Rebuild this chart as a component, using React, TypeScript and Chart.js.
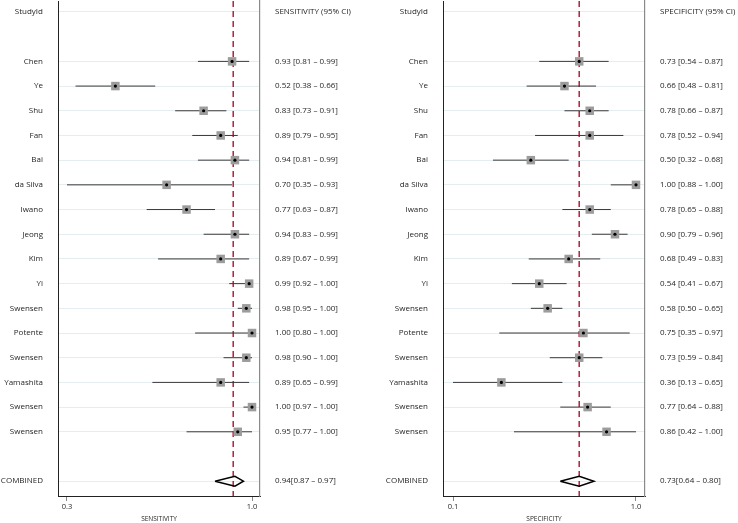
import React, { useEffect, useRef } from "react";
import { Chart, registerables } from "chart.js";

Chart.register(...registerables);

const studies = ["Chen", "Ye", "Shu", "Fan", "Bai", "da Silva", "Iwano", "Jeong", "Kim", "Yi", "Swensen", "Potente", "Swensen", "Yamashita", "Swensen", "Swensen"];

const sens = [0.93, 0.52, 0.83, 0.89, 0.94, 0.70, 0.77, 0.94, 0.89, 0.99, 0.98, 1.00, 0.98, 0.89, 1.00, 0.95];
const sensLo = [0.81, 0.38, 0.73, 0.79, 0.81, 0.35, 0.63, 0.83, 0.67, 0.92, 0.95, 0.80, 0.90, 0.65, 0.97, 0.77];
const sensHi = [0.99, 0.66, 0.91, 0.95, 0.99, 0.93, 0.87, 0.99, 0.99, 1.00, 1.00, 1.00, 1.00, 0.99, 1.00, 1.00];

const spec = [0.73, 0.66, 0.78, 0.78, 0.50, 1.00, 0.78, 0.90, 0.68, 0.54, 0.58, 0.75, 0.73, 0.36, 0.77, 0.86];
const specLo = [0.54, 0.48, 0.66, 0.52, 0.32, 0.88, 0.65, 0.79, 0.49, 0.41, 0.50, 0.35, 0.59, 0.13, 0.64, 0.42];
const specHi = [0.87, 0.81, 0.87, 0.94, 0.68, 1.00, 0.88, 0.96, 0.83, 0.67, 0.65, 0.97, 0.84, 0.65, 0.88, 1.00];

const sensPooled = [0.94, 0.87, 0.97];
const specPooled = [0.73, 0.64, 0.80];
const sensRefLine = 0.934;
const specRefLine = 0.73;

const sensTickValues = [0.35, 1.0];
const sensTickLabels = ["0.3", "1.0"];
const specTickValues = [0.13, 1.0];
const specTickLabels = ["0.1", "1.0"];

const FONT = "'Open Sans', 'Noto Sans', sans-serif";
const TEXT = "#1f1f1f";
const Y_MIN = -0.445;
const Y_MAX = 19.6;
const SHIFT = 5;

function fmt(v: number) {
  return v.toFixed(2);
}

type PanelProps = {
  est: number[];
  lo: number[];
  hi: number[];
  pooled: number[];
  refLine: number;
  header: string;
  title: string;
  tickValues: number[];
  tickLabels: string[];
  xMin: number;
  xMax: number;
  leftW: number;
  rightW: number;
  width: number;
  left: number;
};

function ForestPanel(p: PanelProps) {
  const ref = useRef<HTMLCanvasElement | null>(null);
  useEffect(() => {
    const canvas = ref.current;
    if (!canvas) return;
    const n = studies.length;
    const combinedRow = n + 3;
    const rowsY = [0, ...studies.map((_, i) => i + 2), combinedRow];
    const leftLabels = ["StudyId", ...studies, "COMBINED"];
    const rightLabels = [
      p.header,
      ...p.est.map((e, i) => `${fmt(e)} [${fmt(p.lo[i])} – ${fmt(p.hi[i])}]`),
      `${fmt(p.pooled[0])}[${fmt(p.pooled[1])} – ${fmt(p.pooled[2])}]`,
    ];

    const datasets: any[] = [];
    datasets.push({
      data: [
        { x: p.refLine, y: Y_MIN },
        { x: p.refLine, y: Y_MAX },
      ],
      showLine: true,
      borderColor: "#b0223f",
      borderWidth: 1.5,
      borderDash: [6, 4],
      pointRadius: 0,
      order: 10,
    });
    p.est.forEach((_, i) => {
      datasets.push({
        data: [
          { x: p.lo[i], y: i + 2 },
          { x: p.hi[i], y: i + 2 },
        ],
        showLine: true,
        borderColor: "#383838",
        borderWidth: 1,
        pointRadius: 0,
        order: 8,
      });
    });
    datasets.push({
      data: p.est.map((e, i) => ({ x: e, y: i + 2 })),
      pointStyle: "rect",
      pointRadius: 6,
      backgroundColor: "#9c9c9c",
      borderWidth: 0,
      order: 6,
    });
    datasets.push({
      data: p.est.map((e, i) => ({ x: e, y: i + 2 })),
      pointStyle: "circle",
      pointRadius: 1.6,
      backgroundColor: "#000000",
      borderWidth: 0,
      order: 4,
    });
    const h = 0.2;
    datasets.push({
      data: [
        { x: p.pooled[1], y: combinedRow },
        { x: p.pooled[0], y: combinedRow - h },
        { x: p.pooled[2], y: combinedRow },
        { x: p.pooled[0], y: combinedRow + h },
        { x: p.pooled[1], y: combinedRow },
      ],
      showLine: true,
      borderColor: "#000000",
      borderWidth: 1.5,
      pointRadius: 0,
      order: 2,
    });

    const yTicks = (s: any) => {
      s.ticks = rowsY.map((v) => ({ value: v }));
    };

    const chart = new Chart(canvas, {
      type: "scatter",
      data: { datasets },
      options: {
        animation: false,
        responsive: false,
        devicePixelRatio: 1,
        events: [],
        layout: { padding: 0 },
        plugins: { legend: { display: false }, tooltip: { enabled: false } },
        scales: {
          x: {
            type: "linear",
            position: "bottom",
            min: p.xMin,
            max: p.xMax,
            afterBuildTicks: (s: any) => {
              s.ticks = p.tickValues.map((v) => ({ value: v }));
            },
            afterFit: (s: any) => {
              s.height = 27;
            },
            grid: {
              drawOnChartArea: false,
              drawTicks: true,
              tickLength: 5,
              color: "#888888",
            },
            border: { display: true, color: "#222222", width: 1 },
            ticks: {
              autoSkip: false,
              maxRotation: 0,
              padding: 1,
              color: TEXT,
              font: { family: FONT, size: 7.5 },
              callback: (_v: any, i: number) => p.tickLabels[i],
            },
            title: {
              display: true,
              text: p.title,
              color: TEXT,
              font: { family: FONT, size: 6.5 },
              padding: { top: 0, bottom: 0 },
            },
          },
          y: {
            type: "linear",
            position: "left",
            reverse: true,
            min: Y_MIN,
            max: Y_MAX,
            afterBuildTicks: yTicks,
            afterFit: (s: any) => {
              s.width = p.leftW;
            },
            grid: {
              drawTicks: true,
              tickLength: 15,
              tickColor: "rgba(0,0,0,0)",
              drawOnChartArea: true,
              color: "#e4edef",
              lineWidth: 1,
            },
            border: { display: true, color: "#222222", width: 1 },
            ticks: {
              autoSkip: false,
              padding: 0,
              color: TEXT,
              font: { family: FONT, size: 8 },
              callback: (_v: any, i: number) => leftLabels[i],
            },
          },
          y2: {
            type: "linear",
            position: "right",
            reverse: true,
            min: Y_MIN,
            max: Y_MAX,
            afterBuildTicks: yTicks,
            afterFit: (s: any) => {
              s.width = p.rightW;
            },
            grid: {
              drawTicks: true,
              tickLength: 15,
              tickColor: "rgba(0,0,0,0)",
              drawOnChartArea: false,
            },
            border: { display: true, color: "#8a8a8a", width: 1.2 },
            ticks: {
              autoSkip: false,
              padding: 0,
              color: TEXT,
              font: { family: FONT, size: 8 },
              callback: (_v: any, i: number) => rightLabels[i],
            },
          },
        },
      } as any,
    });
    return () => chart.destroy();
  }, []);

  return (
    <div style={{ position: "absolute", left: p.left, top: -SHIFT, width: p.width, height: 523 + SHIFT }}>
      <canvas ref={ref} width={p.width} height={523 + SHIFT} style={{ display: "block" }} />
    </div>
  );
}

export default function App() {
  return (
    <div
      style={{
        position: "absolute",
        left: 0,
        top: 0,
        width: 738,
        height: 523,
        background: "#ffffff",
        overflow: "hidden",
      }}
    >
      <ForestPanel
        est={sens}
        lo={sensLo}
        hi={sensHi}
        pooled={sensPooled}
        refLine={sensRefLine}
        header="SENSITIVITY (95% CI)"
        title="SENSITIVITY"
        tickValues={sensTickValues}
        tickLabels={sensTickLabels}
        xMin={0.3184}
        xMax={1.0281}
        leftW={58}
        rightW={110}
        width={370}
        left={0}
      />
      <ForestPanel
        est={spec}
        lo={specLo}
        hi={specHi}
        pooled={specPooled}
        refLine={specRefLine}
        header="SPECIFICITY (95% CI)"
        title="SPECIFICITY"
        tickValues={specTickValues}
        tickLabels={specTickLabels}
        xMin={0.0824}
        xMax={1.0428}
        leftW={73}
        rightW={93}
        width={368}
        left={370}
      />
    </div>
  );
}
